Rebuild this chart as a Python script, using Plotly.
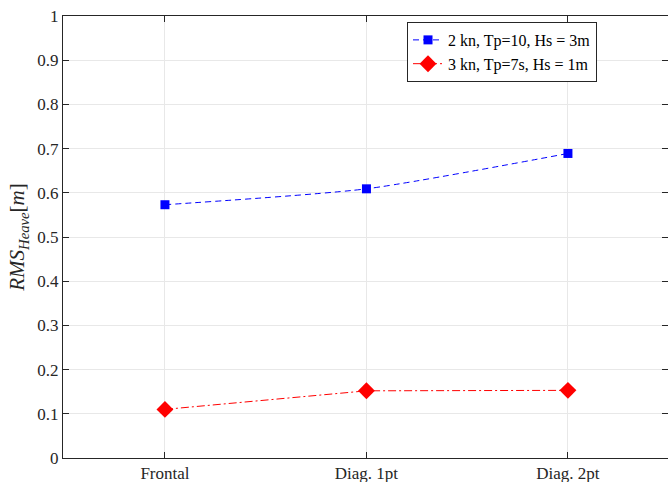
import plotly.graph_objects as go

categories = ["Frontal", "Diag. 1pt", "Diag. 2pt"]
blue_vals = [0.573, 0.609, 0.689]
red_vals = [0.110, 0.152, 0.153]
blue_name = "2 kn, Tp=10, Hs = 3m"
red_name = "3 kn, Tp=7s, Hs = 1m"
y_ticks = [0, 0.1, 0.2, 0.3, 0.4, 0.5, 0.6, 0.7, 0.8, 0.9, 1]
y_ticktext = ["0", "0.1", "0.2", "0.3", "0.4", "0.5", "0.6", "0.7", "0.8", "0.9", "1"]

FONT = "Liberation Serif"
AX = "#262626"
GRID = "#e8e8e8"
xr = [-0.506, 2.4966]

fig = go.Figure()
fig.add_trace(go.Scatter(
    x=categories, y=blue_vals, name=blue_name, mode="lines+markers",
    line=dict(color="#0000ff", width=1, dash="6px,4px", shape="spline", smoothing=0.6),
    marker=dict(symbol="square", size=9, color="#0000ff"),
))
fig.add_trace(go.Scatter(
    x=categories, y=red_vals, name=red_name, mode="lines+markers",
    line=dict(color="#ff0000", width=1, dash="8px,3px,2px,3px"),
    marker=dict(symbol="diamond", size=13, color="#ff0000"),
))
# invisible helper trace for mirrored axes
fig.add_trace(go.Scatter(x=categories, y=red_vals, xaxis="x2", yaxis="y2",
                         mode="markers", marker=dict(opacity=0), showlegend=False,
                         hoverinfo="skip"))

fig.update_layout(
    width=668, height=482,
    margin=dict(l=63, r=0, t=16, b=24, autoexpand=False),
    paper_bgcolor="white", plot_bgcolor="white",
    font=dict(family=FONT, size=15, color=AX),
    xaxis=dict(type="category", range=xr, showline=True, linecolor=AX, linewidth=1,
               ticks="inside", ticklen=6, tickcolor=AX, showgrid=True, gridcolor=GRID,
               tickfont=dict(family=FONT, size=17, color=AX), zeroline=False,
               automargin=False),
    xaxis2=dict(type="category", range=xr, overlaying="x", side="top", anchor="y",
                showline=True, linecolor=AX, linewidth=1, ticks="inside", ticklen=6,
                tickcolor=AX, showticklabels=False, showgrid=False, zeroline=False,
                categoryarray=categories, categoryorder="array", automargin=False),
    yaxis=dict(range=[0, 1], tickvals=y_ticks, ticktext=y_ticktext, showline=True,
               linecolor=AX, linewidth=1, ticks="inside", ticklen=6, tickcolor=AX,
               showgrid=True, gridcolor=GRID, zeroline=False, automargin=False,
               tickfont=dict(family=FONT, size=17, color=AX),
               title=dict(text="<i>RMS</i><sub><i>Heave</i></sub>[<i>m</i>]",
                         font=dict(family=FONT, size=21, color=AX), standoff=6)),
    yaxis2=dict(range=[0, 1], tickvals=y_ticks, overlaying="y", side="right", anchor="x",
                showline=False, ticks="inside", ticklen=6, tickcolor=AX,
                showticklabels=False, showgrid=False, zeroline=False, automargin=False),
    legend=dict(x=0.5686, y=0.9186, xanchor="left", yanchor="middle",
                bgcolor="white", bordercolor=AX, borderwidth=1,
                font=dict(family=FONT, size=16, color="black"),
                itemwidth=30, tracegroupgap=0),
    showlegend=True,
)

fig.write_html("out.html", config={"displayModeBar": False},
               post_script="document.body.style.margin='0';document.body.style.padding='0';")
